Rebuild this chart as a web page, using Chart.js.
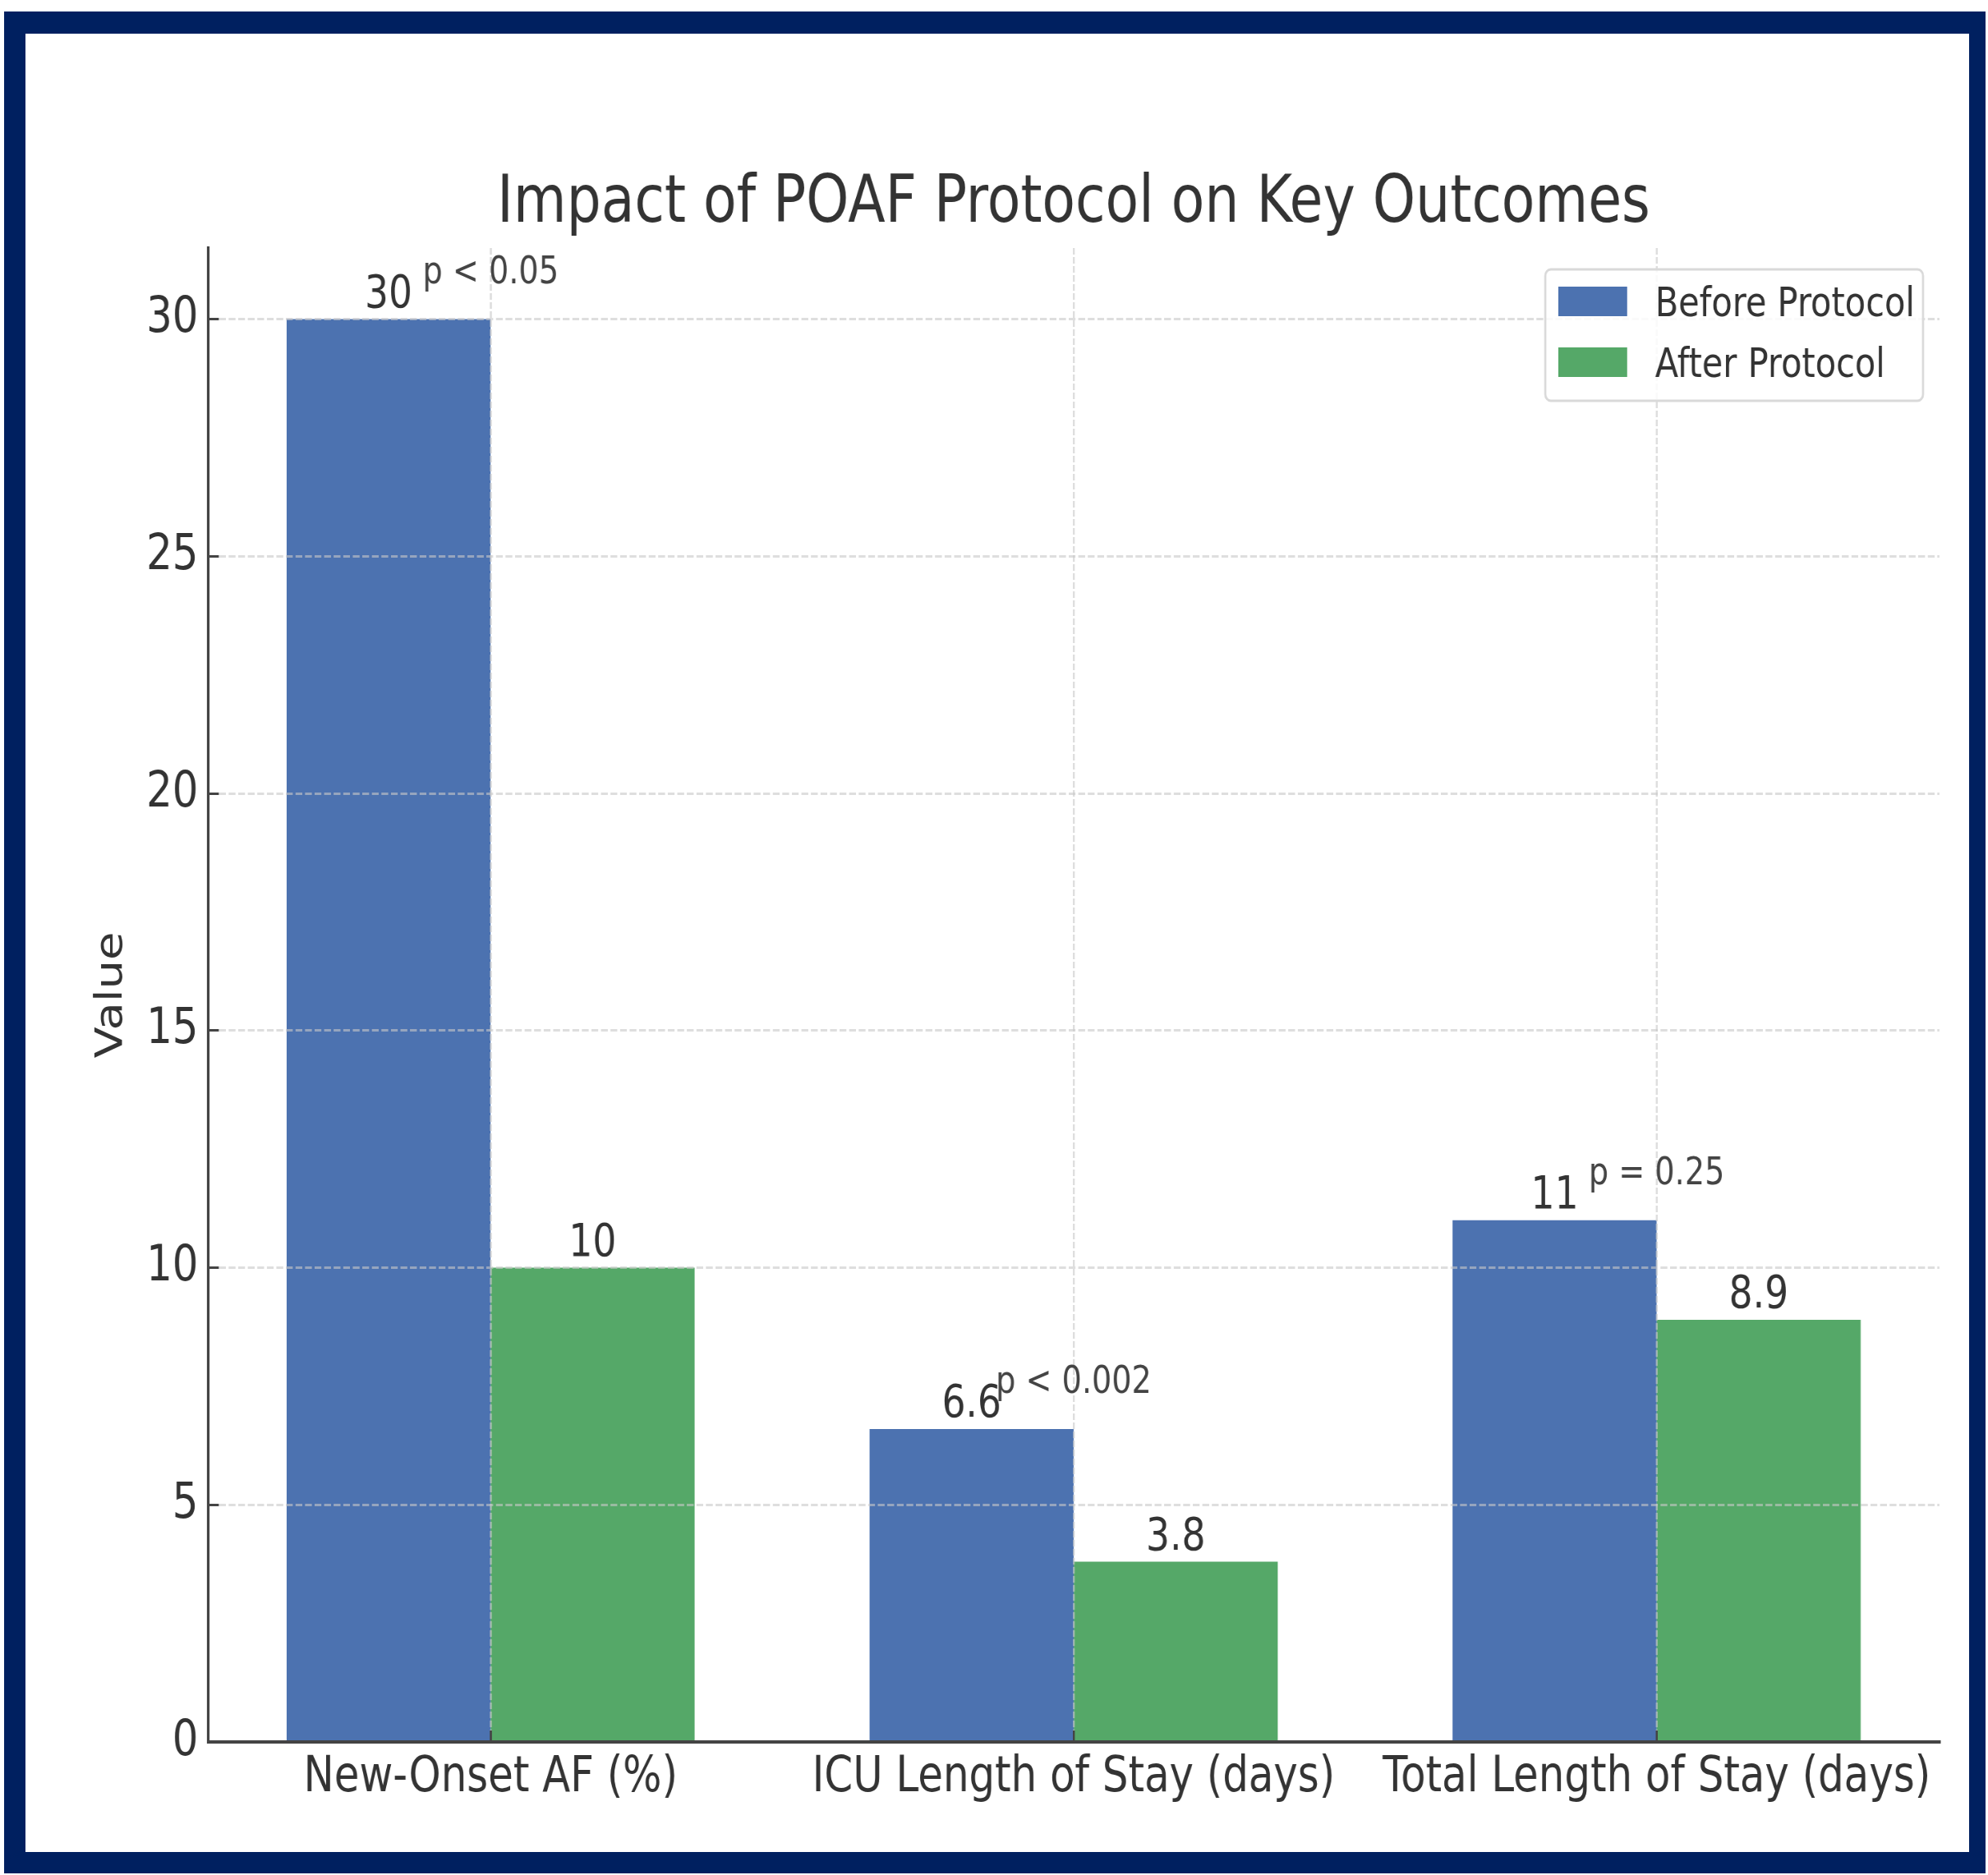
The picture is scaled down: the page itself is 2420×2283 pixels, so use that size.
<!DOCTYPE html>
<html>
<head>
<meta charset="utf-8">
<title>Impact of POAF Protocol on Key Outcomes</title>
<script src="https://cdn.jsdelivr.net/npm/chart.js@4.4.1/dist/chart.umd.min.js"></script>
<style>
  html, body { margin: 0; padding: 0; background: #fff; }
  body { width: 2420px; height: 2283px; position: relative; overflow: hidden; }
  #frame {
    position: absolute; left: 5px; top: 14px;
    width: 2366px; height: 2214px;
    border-style: solid; border-color: #002060;
    border-width: 27px 20px 26px 26px;
    background: #fff;
  }
  /* the reference is squeezed sideways, so the canvas is too */
  #chart { position: absolute; left: 31px; top: 41px; transform-origin: 0 0; transform: scaleX(0.83); }
</style>
</head>
<body>
<div id="frame"></div>
<canvas id="chart" width="2851" height="2214" style="width:2851px;height:2214px"></canvas>
<script>
// data
const categories = ['New-Onset AF (%)', 'ICU Length of Stay (days)', 'Total Length of Stay (days)'];
const seriesNames = ['Before Protocol', 'After Protocol'];
const beforeValues = [30, 6.6, 11];
const afterValues = [10, 3.8, 8.9];
const pValues = ['p < 0.05', 'p < 0.002', 'p = 0.25'];
const yTicks = [0, 5, 10, 15, 20, 25, 30];

const FONT = 'DejaVu Sans';
const TEXT = '#333';
const GRID = 'rgba(200,200,200,0.6)';
const AXIS = '#444';

Chart.defaults.font.family = FONT;
Chart.defaults.color = TEXT;

// value labels over bars and p-values over each group
const barLabels = {
    id: 'barLabels',
    afterDraw(chart) {
        const ctx = chart.ctx;
        const xs = chart.scales.x, ys = chart.scales.y;
        ctx.save();
        ctx.fillStyle = TEXT;
        ctx.textAlign = 'center';
        ctx.textBaseline = 'alphabetic';
        ctx.font = '55px "' + FONT + '"';
        chart.data.datasets.forEach((ds, di) => {
            chart.getDatasetMeta(di).data.forEach((bar, i) => {
                ctx.fillText(String(ds.data[i].y), bar.x, bar.y - 15);
            });
        });
        ctx.fillStyle = '#444';
        ctx.font = '46px "' + FONT + '"';
        pValues.forEach((p, i) => {
            let top = Math.max(beforeValues[i], afterValues[i]);
            ctx.fillText(p, xs.getPixelForValue(i), ys.getPixelForValue(top) - 44);
        });
        ctx.restore();
    }
};

// matplotlib-like legend box in the upper right of the plot
const boxLegend = {
    id: 'boxLegend',
    afterDraw(chart) {
        const a = chart.chartArea, ctx = chart.ctx;
        const w = 554, h = 160;
        const left = a.right - 24 - w, top = a.top + 26;
        ctx.save();
        ctx.beginPath();
        ctx.roundRect(left, top, w, h, 8);
        ctx.fillStyle = 'rgba(255,255,255,0.85)';
        ctx.fill();
        ctx.lineWidth = 3;
        ctx.strokeStyle = '#d9d9d9';
        ctx.stroke();
        ctx.font = '50px "' + FONT + '"';
        ctx.textBaseline = 'alphabetic';
        ctx.textAlign = 'left';
        chart.data.datasets.forEach((ds, i) => {
            let rowTop = top + 21 + i * 74;
            ctx.fillStyle = ds.backgroundColor;
            ctx.fillRect(left + 19, rowTop, 101, 36);
            ctx.fillStyle = TEXT;
            ctx.fillText(ds.label, left + 161, rowTop + 36);
        });
        ctx.restore();
    }
};

new Chart(document.getElementById('chart'), {
    type: 'bar',
    data: {
        datasets: [{
            label: seriesNames[0],
            data: beforeValues.map((v, i) => ({ x: i, y: v })),
            backgroundColor: '#4C72B0',
            borderWidth: 0
        }, {
            label: seriesNames[1],
            data: afterValues.map((v, i) => ({ x: i, y: v })),
            backgroundColor: '#55A868',
            borderWidth: 0
        }]
    },
    options: {
        responsive: false,
        animation: false,
        devicePixelRatio: 1,
        categoryPercentage: 0.7,
        barPercentage: 1.0,
        layout: { padding: { left: 0, right: 44, top: 0, bottom: 0 } },
        plugins: {
            legend: { display: false },
            tooltip: { enabled: false },
            title: {
                display: true,
                fullSize: false,
                text: 'Impact of POAF Protocol on Key Outcomes',
                color: TEXT,
                font: { size: 80, weight: 'normal' },
                padding: { top: 160, bottom: 5 }
            }
        },
        scales: {
            x: {
                type: 'linear',
                min: -0.485,
                max: 2.485,
                offset: false,
                afterBuildTicks: s => { s.ticks = categories.map((c, i) => ({ value: i })); },
                afterFit: s => { s.height = 134; },
                ticks: {
                    callback: (v, i) => categories[i],
                    font: { size: 60 },
                    color: TEXT,
                    padding: 22,
                    autoSkip: false,
                    maxRotation: 0,
                    minRotation: 0
                },
                grid: { offset: false, color: GRID, lineWidth: 3, tickLength: -14, tickColor: AXIS, tickWidth: 3, z: 1 },
                border: { display: true, color: AXIS, width: 4, dash: [8, 3], z: 2 }
            },
            y: {
                min: 0,
                max: 31.5,
                afterBuildTicks: s => { s.ticks = yTicks.map(v => ({ value: v })); },
                afterFit: s => { s.width = 267.5; },
                ticks: { font: { size: 60 }, color: TEXT, padding: 30 },
                title: {
                    display: true,
                    text: 'Value',
                    color: TEXT,
                    font: { size: 56 },
                    padding: { top: 93, bottom: 0 }
                },
                grid: { color: GRID, lineWidth: 3, tickLength: -16, tickColor: AXIS, tickWidth: 3, z: 1 },
                border: { display: true, color: AXIS, width: 4, dash: [10, 4], z: 2 }
            }
        }
    },
    plugins: [barLabels, boxLegend]
});
</script>
</body>
</html>
